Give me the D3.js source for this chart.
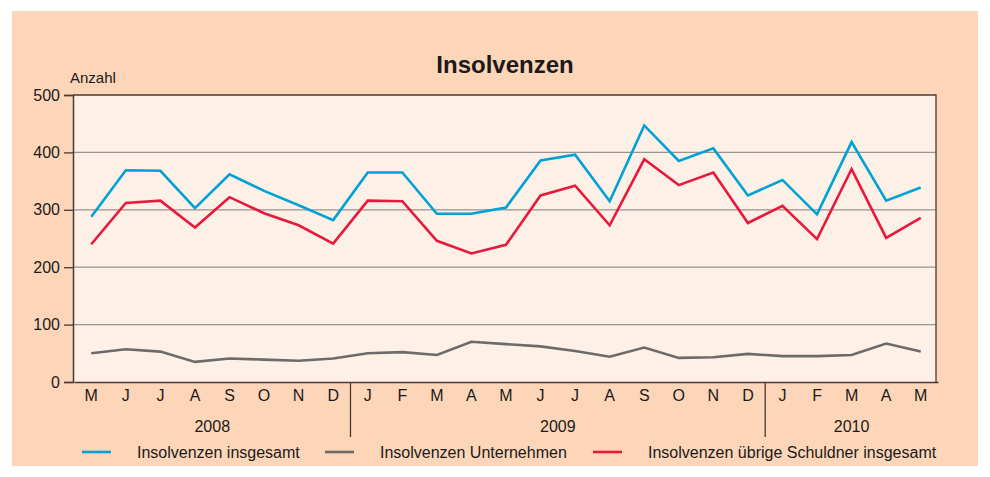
<!DOCTYPE html>
<html>
<head>
<meta charset="utf-8">
<script src="https://cdn.jsdelivr.net/npm/d3@7"></script>
<style>
  body { margin: 0; background: #fff; }
  svg { display: block; font-family: "Liberation Sans", Arial, sans-serif; }
</style>
</head>
<body>
<div id="chart"></div>
<script>
// Months May 2008 .. May 2010
var months = ['M','J','J','A','S','O','N','D',
              'J','F','M','A','M','J','J','A','S','O','N','D',
              'J','F','M','A','M']
var years     = ['2008', '2009', '2010']
var yearStart = [0, 8, 20]   // index of first month for each year
var yTicks    = [0, 100, 200, 300, 400, 500]

var insgesamt   = [288, 369, 368, 303, 362, 333, 308, 282, 365, 365, 293, 293, 304,
                   386, 396, 315, 447, 385, 407, 325, 352, 292, 418, 316, 339]
var unternehmen = [50, 57, 53, 35, 41, 39, 37, 41, 50, 52, 47, 70, 66,
                   62, 54, 44, 60, 42, 43, 49, 45, 45, 47, 67, 53]
var uebrige     = [240, 312, 316, 269, 322, 294, 273, 241, 316, 315, 246, 224, 239,
                   325, 342, 273, 388, 343, 365, 277, 307, 249, 371, 251, 286]

var seriesNames  = ['Insolvenzen insgesamt', 'Insolvenzen Unternehmen', 'Insolvenzen übrige Schuldner insgesamt']
var seriesColors = ['#00a2d6', '#6d6a69', '#e8193c']
var seriesData   = [insgesamt, unternehmen, uebrige]

var W = 990, H = 477
var margin = {left: 73, right: 54, top: 95, bottom: 95}
var pw = W - margin.left - margin.right
var ph = H - margin.top - margin.bottom

var svg = d3.select('#chart').append('svg').attr('width', W).attr('height', H)

// backgrounds
svg.append('rect').attr('x', 12).attr('y', 11).attr('width', 966).attr('height', 455).attr('fill', '#fdd5b8')
svg.append('rect').attr('x', margin.left).attr('y', margin.top).attr('width', pw).attr('height', ph).attr('fill', '#fdf0e6')

// title
svg.append('text').attr('x', 505).attr('y', 73).attr('text-anchor', 'middle')
    .attr('font-size', 24).attr('font-weight', 'bold').attr('fill', '#1a1a1a').text('Insolvenzen')
svg.append('text').attr('x', 70).attr('y', 83).attr('font-size', 15).attr('fill', '#1a1a1a').text('Anzahl')

// scales
var x = d3.scaleBand().domain(d3.range(months.length)).range([margin.left + 1, margin.left + pw + 2])
var y = d3.scaleLinear().domain([0, 500]).range([margin.top + ph, margin.top])
var cx = i => x(i) + x.bandwidth() / 2

// grid
svg.append('g').selectAll('line').data(yTicks.slice(1, -1)).join('line')
    .attr('x1', margin.left).attr('x2', margin.left + pw)
    .attr('y1', d => y(d)).attr('y2', d => y(d))
    .attr('stroke', '#9a9390').attr('stroke-width', 1.3)

// frame top + right
svg.append('path')
    .attr('d', `M${margin.left},${y(500)}H${margin.left + pw}V${y(0)}`)
    .attr('fill', 'none').attr('stroke', '#4a3a32').attr('stroke-width', 1.3)

// y axis
var yAxis = svg.append('g').attr('transform', `translate(${margin.left},0)`)
    .call(d3.axisLeft(y).tickValues(yTicks).tickSize(9).tickPadding(4))
yAxis.select('.domain').attr('stroke', '#4a3a32').attr('stroke-width', 1.5)
yAxis.selectAll('.tick line').attr('stroke', '#4a3a32').attr('stroke-width', 1.3)
yAxis.selectAll('text').attr('font-size', 16).attr('fill', '#1a1a1a')
    .attr('font-family', '"Liberation Sans", Arial, sans-serif')

// x axis
var xAxis = svg.append('g').attr('transform', `translate(0,${y(0)})`)
    .call(d3.axisBottom(x).tickFormat(i => months[i]).tickSize(0).tickPadding(8))
xAxis.select('.domain').attr('stroke', '#4a3a32').attr('stroke-width', 1.5)
xAxis.selectAll('text').attr('font-size', 16).attr('fill', '#1a1a1a')
    .attr('font-family', '"Liberation Sans", Arial, sans-serif')

// year separators + labels
svg.append('g').selectAll('line').data(yearStart.slice(1)).join('line')
    .attr('x1', d => x(d)).attr('x2', d => x(d))
    .attr('y1', y(0)).attr('y2', y(0) + 55)
    .attr('stroke', '#4a3a32').attr('stroke-width', 1.3)
svg.append('g').selectAll('text').data(years).join('text')
    .attr('x', (d, k) => {
        var a = yearStart[k], b = k + 1 < yearStart.length ? yearStart[k + 1] - 1 : months.length - 1
        return (cx(a) + cx(b)) / 2
    })
    .attr('y', y(0) + 50).attr('text-anchor', 'middle')
    .attr('font-size', 16).attr('fill', '#1a1a1a').text(d => d)

// lines
var line = d3.line().x((d, i) => cx(i)).y(d => y(d))
// draw grey first, then blue and red on top
;[1, 0, 2].forEach(k => {
    svg.append('path').datum(seriesData[k])
        .attr('d', line).attr('fill', 'none')
        .attr('stroke', seriesColors[k]).attr('stroke-width', 2.6)
        .attr('stroke-linejoin', 'miter')
})

// legend
var legX = [82, 325, 593]
var leg = svg.append('g').selectAll('g').data(seriesNames).join('g')
    .attr('transform', (d, i) => `translate(${legX[i]},452)`)
leg.append('line').attr('x1', 0).attr('x2', 29).attr('y1', 0).attr('y2', 0)
    .attr('stroke', (d, i) => seriesColors[i]).attr('stroke-width', 2.6)
leg.append('text').attr('x', 55).attr('y', 5.5)
    .attr('font-size', 16).attr('fill', '#1a1a1a').text(d => d)
</script>
</body>
</html>
